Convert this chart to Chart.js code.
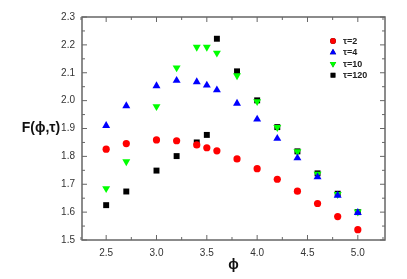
<!DOCTYPE html>
<html>
<head>
<meta charset="utf-8">
<script src="https://cdn.jsdelivr.net/npm/chart.js@4.4.1/dist/chart.umd.min.js"></script>
<style>
  html, body { margin: 0; padding: 0; background: #fff; }
  #wrap { width: 407px; height: 279px; }
</style>
</head>
<body>
<div id="wrap"><canvas id="fChart" width="407" height="279"></canvas></div>
<script>
// phi values shared by every series
const phiValues = [2.5, 2.7, 3.0, 3.2, 3.4, 3.5, 3.6, 3.8, 4.0, 4.2, 4.4, 4.6, 4.8, 5.0];

const tau2   = [1.826, 1.846, 1.859, 1.856, 1.841, 1.831, 1.820, 1.791, 1.756, 1.718, 1.675, 1.631, 1.584, 1.537];
const tau4   = [1.910, 1.981, 2.053, 2.072, 2.067, 2.055, 2.038, 1.990, 1.933, 1.864, 1.794, 1.726, 1.660, 1.598];
const tau10  = [1.685, 1.781, 1.979, 2.118, 2.192, 2.192, 2.171, 2.090, 1.997, 1.904, 1.817, 1.737, 1.664, 1.601];
const tau120 = [1.625, 1.674, 1.749, 1.801, 1.850, 1.877, 2.222, 2.105, 2.001, 1.905, 1.818, 1.739, 1.666, 1.600];

const xTicks = [2.5, 3.0, 3.5, 4.0, 4.5, 5.0];
const yTicks = [1.5, 1.6, 1.7, 1.8, 1.9, 2.0, 2.1, 2.2, 2.3];
const xMinor = [2.25, 2.75, 3.25, 3.75, 4.25, 4.75, 5.25];
const yMinor = [1.55, 1.65, 1.75, 1.85, 1.95, 2.05, 2.15, 2.25];

const toPoints = ys => ys.map((y, i) => ({ x: phiValues[i], y }));

// frame, inward ticks, axis titles and the legend box
const framePlugin = {
    id: 'frame',
    afterDraw(chart) {
        const { ctx, chartArea: a, scales: { x, y } } = chart;
        ctx.save();
        ctx.strokeStyle = '#666';
        ctx.lineWidth = 1.5;
        ctx.strokeRect(a.left, a.top, a.right - a.left, a.bottom - a.top);

        ctx.lineWidth = 1;
        const tick = (px, len, vertical) => {
            ctx.beginPath();
            if (vertical) {
                ctx.moveTo(px, a.bottom); ctx.lineTo(px, a.bottom - len);
                ctx.moveTo(px, a.top); ctx.lineTo(px, a.top + len);
            } else {
                ctx.moveTo(a.left, px); ctx.lineTo(a.left + len, px);
                ctx.moveTo(a.right, px); ctx.lineTo(a.right - len, px);
            }
            ctx.stroke();
        };
        xTicks.forEach(v => tick(x.getPixelForValue(v), 5, true));
        xMinor.forEach(v => tick(x.getPixelForValue(v), 3, true));
        yTicks.forEach(v => tick(y.getPixelForValue(v), 5, false));
        yMinor.forEach(v => tick(y.getPixelForValue(v), 3, false));

        ctx.fillStyle = '#111';
        ctx.font = 'bold 14px "Liberation Sans", Arial, sans-serif';
        ctx.textAlign = 'center';
        ctx.textBaseline = 'middle';
        ctx.fillText('F(\u03D5,\u03C4)', 41, 128);
        ctx.fillText('\u03D5', (a.left + a.right) / 2, 265);

        // legend
        ctx.font = 'bold 9px "Liberation Sans", Arial, sans-serif';
        ctx.textAlign = 'left';
        chart.data.datasets.forEach(ds => {
            const ly = 41 + ds.legendRow * 11.4;
            Chart.helpers.drawPoint(ctx, {
                pointStyle: ds.pointStyle,
                rotation: ds.rotation || 0,
                radius: ds.pointRadius * 0.8
            }, 333, ly);
            ctx.fillStyle = ds.backgroundColor;
            ctx.fill();
            ctx.fillStyle = '#222';
            ctx.fillText(ds.label, 343, ly + 0.5);
        });
        ctx.restore();
    }
};

new Chart(document.getElementById('fChart'), {
    type: 'scatter',
    data: {
        datasets: [
            { label: '\u03C4=2', data: toPoints(tau2), pointStyle: 'circle', pointRadius: 3.6,
              backgroundColor: '#ff0000', borderWidth: 0, legendRow: 0, order: 1 },
            { label: '\u03C4=4', data: toPoints(tau4), pointStyle: 'triangle', pointRadius: 4.6,
              backgroundColor: '#0000ff', borderWidth: 0, legendRow: 1, order: 2 },
            { label: '\u03C4=10', data: toPoints(tau10), pointStyle: 'triangle', rotation: 180, pointRadius: 4.6,
              backgroundColor: '#00ff00', borderWidth: 0, legendRow: 2, order: 3 },
            { label: '\u03C4=120', data: toPoints(tau120), pointStyle: 'rect', pointRadius: 4.2,
              backgroundColor: '#000', borderWidth: 0, legendRow: 3, order: 4 },
        ]
    },
    options: {
        responsive: false,
        animation: false,
        layout: { padding: { top: 17, right: 22, left: 0, bottom: 0 } },
        plugins: { legend: { display: false }, tooltip: { enabled: false } },
        scales: {
            x: {
                type: 'linear', min: 2.26, max: 5.27,
                grid: { display: false, drawTicks: false },
                border: { display: false },
                afterBuildTicks: s => { s.ticks = xTicks.map(v => ({ value: v })); },
                afterFit: s => { s.height = 39; },
                ticks: { padding: 7, color: '#333', font: { size: 10, family: '"Liberation Sans", Arial, sans-serif' },
                         callback: v => v.toFixed(1) }
            },
            y: {
                type: 'linear', min: 1.5, max: 2.3,
                grid: { display: false, drawTicks: false },
                border: { display: false },
                afterBuildTicks: s => { s.ticks = yTicks.map(v => ({ value: v })); },
                afterFit: s => { s.width = 82; },
                ticks: { padding: 7, color: '#333', font: { size: 10, family: '"Liberation Sans", Arial, sans-serif' },
                         callback: v => v.toFixed(1) }
            }
        }
    },
    plugins: [framePlugin]
});
</script>
</body>
</html>
